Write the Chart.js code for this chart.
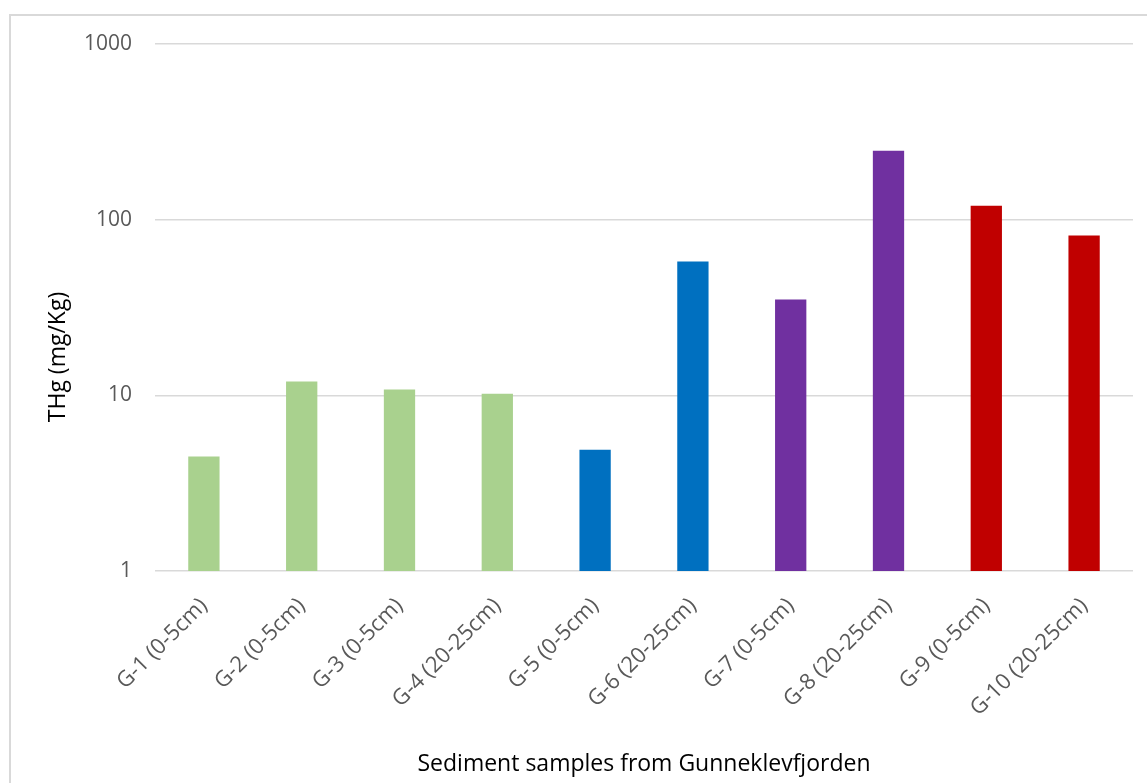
<!DOCTYPE html>
<html>
<head>
<meta charset="utf-8">
<script src="https://cdn.jsdelivr.net/npm/chart.js@4/dist/chart.umd.min.js"></script>
<style>
  html, body { margin: 0; padding: 0; background: #ffffff; }
  #wrap { width: 1147px; height: 783px; position: relative; }
</style>
</head>
<body>
<div id="wrap"><canvas id="chart" width="1147" height="783"></canvas></div>
<script>
// Sample names and total mercury content (mg/Kg) per sediment sample
const samples = [
  'G-1 (0-5cm)', 'G-2 (0-5cm)', 'G-3 (0-5cm)', 'G-4 (20-25cm)', 'G-5 (0-5cm)',
  'G-6 (20-25cm)', 'G-7 (0-5cm)', 'G-8 (20-25cm)', 'G-9 (0-5cm)', 'G-10 (20-25cm)'
];
const thgValues = [4.48, 12.0, 10.8, 10.2, 4.9, 57.7, 35.1, 247, 120, 81.2];
const yTickValues = [1, 10, 100, 1000];

// Fill colour per sample group
const barColors = [
  '#A9D18E', '#A9D18E', '#A9D18E', '#A9D18E',
  '#0070C0', '#0070C0',
  '#7030A0', '#7030A0',
  '#C00000', '#C00000'
];

const FONT = '"Open Sans", "Noto Sans", sans-serif';

// Light frame around the chart and the rotated y-axis title
const decorations = {
  id: 'decorations',
  beforeDraw(chart) {
    const ctx = chart.ctx;
    ctx.save();
    ctx.strokeStyle = '#d9d9d9';
    ctx.lineWidth = 2;
    ctx.strokeRect(10, 15, 3000, 3000);
    ctx.restore();
  },
  afterDraw(chart) {
    const ctx = chart.ctx;
    ctx.save();
    ctx.translate(58, 357);
    ctx.rotate(-Math.PI / 2);
    ctx.fillStyle = '#000000';
    ctx.font = '23px ' + FONT;
    ctx.textAlign = 'center';
    ctx.textBaseline = 'middle';
    ctx.fillText('THg (mg/Kg)', 0, 0);
    ctx.restore();
  }
};

new Chart(document.getElementById('chart'), {
  type: 'bar',
  data: {
    labels: samples,
    datasets: [{
      data: thgValues,
      backgroundColor: barColors,
      borderWidth: 0,
      categoryPercentage: 1.0,
      barPercentage: 0.32
    }]
  },
  options: {
    responsive: false,
    animation: false,
    devicePixelRatio: 1,
    layout: { padding: { top: 44, right: 14, left: 0, bottom: 0 } },
    plugins: {
      legend: { display: false },
      tooltip: { enabled: false }
    },
    scales: {
      x: {
        grid: { display: false, drawTicks: false },
        border: { display: false },
        ticks: {
          color: '#595959',
          font: { family: FONT, size: 22 },
          maxRotation: 45,
          minRotation: 45,
          autoSkip: false,
          padding: 22
        },
        title: {
          display: true,
          text: 'Sediment samples from Gunneklevfjorden',
          color: '#000000',
          font: { family: FONT, size: 23 },
          padding: { top: 0, bottom: 5 }
        },
        afterFit(scale) { scale.height = 212; }
      },
      y: {
        type: 'logarithmic',
        min: 1,
        max: 1000,
        grid: { color: '#d9d9d9', lineWidth: 1.5, drawTicks: false },
        border: { display: false },
        afterBuildTicks(scale) {
          scale.ticks = yTickValues.map(v => ({ value: v }));
        },
        ticks: {
          color: '#595959',
          font: { family: FONT, size: 21 },
          padding: 23,
          callback: (v) => String(v)
        },
        afterFit(scale) { scale.width = 155; }
      }
    }
  },
  plugins: [decorations]
});
</script>
</body>
</html>
